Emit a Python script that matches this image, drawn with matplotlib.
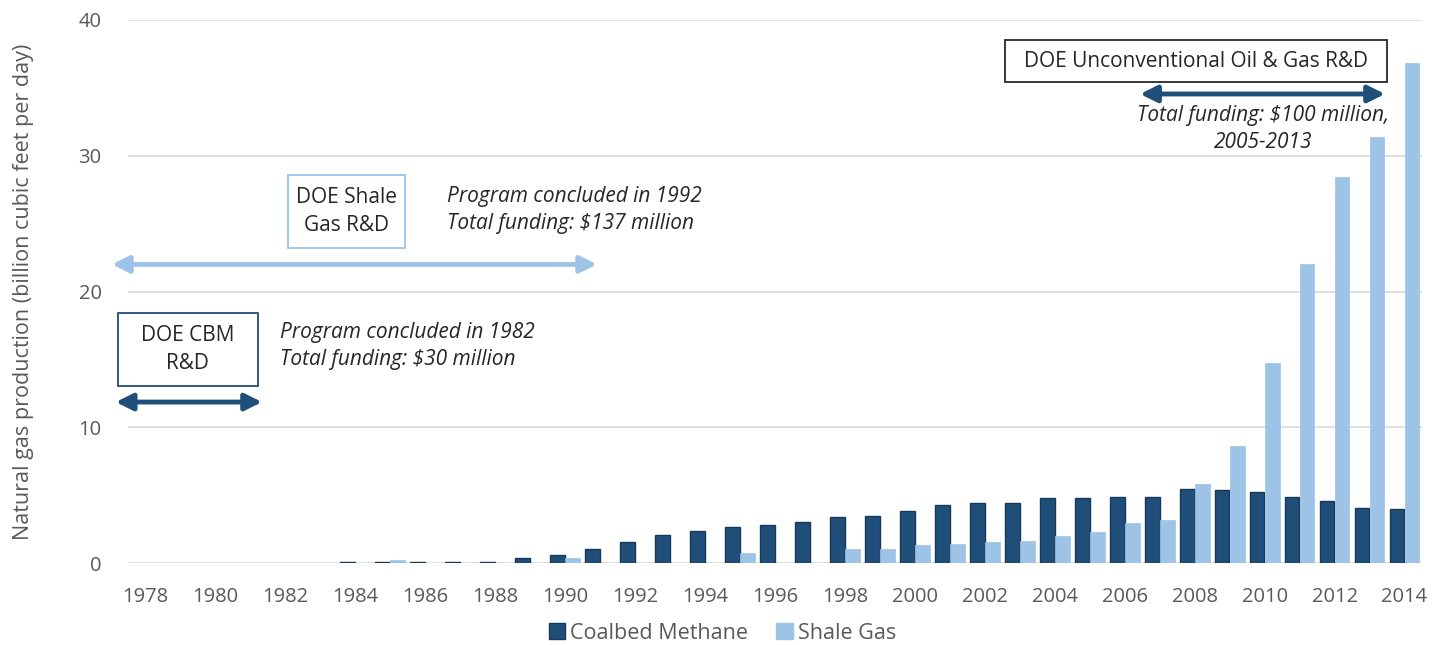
import matplotlib
matplotlib.use("Agg")
import matplotlib.pyplot as plt
from matplotlib.patches import Patch, Rectangle

years = list(range(1978, 2015))
cbm = [0, 0, 0, 0, 0, 0, 0.1, 0.1, 0.1, 0.1, 0.1, 0.38, 0.6, 1.05, 1.52, 2.09, 2.33, 2.68, 2.8, 3.02,
       3.39, 3.49, 3.83, 4.3, 4.42, 4.42, 4.8, 4.8, 4.88, 4.88, 5.47, 5.36, 5.2, 4.88, 4.57, 4.06, 3.95]
shale = [0, 0, 0, 0, 0, 0, 0, 0.25, 0, 0, 0, 0, 0.38, 0, 0, 0, 0, 0.71, 0, 0,
         1.06, 1.06, 1.3, 1.4, 1.52, 1.64, 2.0, 2.26, 2.96, 3.2, 5.8, 8.6, 14.7, 22.0, 28.4, 31.4, 36.8]
xtick_years = list(range(1978, 2015, 2))
series_names = ["Coalbed Methane", "Shale Gas"]

C_DARK = "#1F4E79"
C_EDGE = "#16385A"
C_LIGHT = "#9DC3E6"
GRAY = "#595959"
TXT = "#262626"

plt.rcParams['font.family'] = ['Open Sans', 'DejaVu Sans']

fig = plt.figure(figsize=(14.45, 6.45), dpi=100)
ax = fig.add_axes([0.0886, 0.127, 0.8955, 0.842])

w = 0.42
cx = [y - 0.215 for y, v in zip(years, cbm) if v > 0]
cv = [v for v in cbm if v > 0]
sx = [y + 0.215 for y, v in zip(years, shale) if v > 0]
sv = [v for v in shale if v > 0]
ax.bar(cx, cv, width=w, color=C_DARK, edgecolor=C_EDGE, linewidth=1, zorder=3)
ax.bar(sx, sv, width=w, color=C_LIGHT, edgecolor=C_LIGHT, linewidth=0.5, zorder=3)

ax.set_xlim(1977.5, 2014.5)
ax.set_ylim(0, 40)
ax.set_yticks([0, 10, 20, 30, 40])
ax.set_xticks(xtick_years)
ax.set_xticklabels([str(y) for y in xtick_years])
ax.grid(axis='y', color='#D9D9D9', linewidth=1.2, zorder=0)
for s in ax.spines.values():
    s.set_visible(False)
ax.tick_params(axis='both', length=0, labelsize=14.5, colors=GRAY)
ax.tick_params(axis='x', pad=17)
ax.tick_params(axis='y', pad=19)
ax.set_ylabel("Natural gas production (billion cubic feet per day)", fontsize=15.5, color=GRAY)
ax.yaxis.set_label_coords(-0.073, 0.5)

def box(x0, x1, y0, y1, ec):
    ax.add_patch(Rectangle((x0, y0), x1 - x0, y1 - y0, facecolor='white', edgecolor=ec,
                           linewidth=1.3, zorder=4, clip_on=False))

FS = 15
AS = '<|-|>,head_length=1.0,head_width=0.5'
# Unconventional box
box(2002.57, 2013.5, 35.4, 38.5, TXT)
ax.text(2008.04, 36.95, "DOE Unconventional Oil & Gas R&D", fontsize=FS, color=TXT,
        ha='center', va='center', zorder=5)
ax.annotate("", xy=(2013.44, 34.55), xytext=(2006.44, 34.55),
            arrowprops=dict(arrowstyle=AS, color=C_DARK, lw=3.5, shrinkA=0, shrinkB=0), zorder=5)
ax.text(2009.95, 31.95, "Total funding: $100 million,\n2005-2013", fontsize=FS, style='italic',
        color=TXT, ha='center', va='center', linespacing=1.4, zorder=5)

# Shale box
box(1982.07, 1985.41, 23.2, 28.58, C_LIGHT)
ax.text(1983.74, 25.9, "DOE Shale\nGas R&D", fontsize=FS, color=TXT, ha='center', va='center',
        linespacing=1.4, zorder=5)
ax.text(1986.62, 26.0, "Program concluded in 1992\nTotal funding: $137 million", fontsize=FS,
        style='italic', color=TXT, ha='left', va='center', linespacing=1.4, zorder=5)
ax.annotate("", xy=(1990.91, 22.0), xytext=(1977.04, 22.0), annotation_clip=False,
            arrowprops=dict(arrowstyle=AS, color=C_LIGHT, lw=3.5, shrinkA=0, shrinkB=0), zorder=5)

# CBM box
box(1977.21, 1981.21, 13.04, 18.42, C_DARK)
ax.text(1979.21, 15.73, "DOE CBM\nR&D", fontsize=FS, color=TXT, ha='center', va='center',
        linespacing=1.4, zorder=5)
ax.text(1981.84, 16.0, "Program concluded in 1982\nTotal funding: $30 million", fontsize=FS,
        style='italic', color=TXT, ha='left', va='center', linespacing=1.4, zorder=5)
ax.annotate("", xy=(1981.33, 11.86), xytext=(1977.15, 11.86), annotation_clip=False,
            arrowprops=dict(arrowstyle=AS, color=C_DARK, lw=3.5, shrinkA=0, shrinkB=0), zorder=5)

handles = [Patch(facecolor=C_DARK, edgecolor=C_EDGE), Patch(facecolor=C_LIGHT, edgecolor=C_LIGHT)]
fig.legend(handles, series_names, loc='center', bbox_to_anchor=(0.5, 0.0186), ncol=2, frameon=False,
           fontsize=15.5, labelcolor=GRAY, handlelength=0.75, handleheight=0.75, handletextpad=0.25,
           columnspacing=1.3, borderpad=0)

fig.savefig("out.png", dpi=100)
